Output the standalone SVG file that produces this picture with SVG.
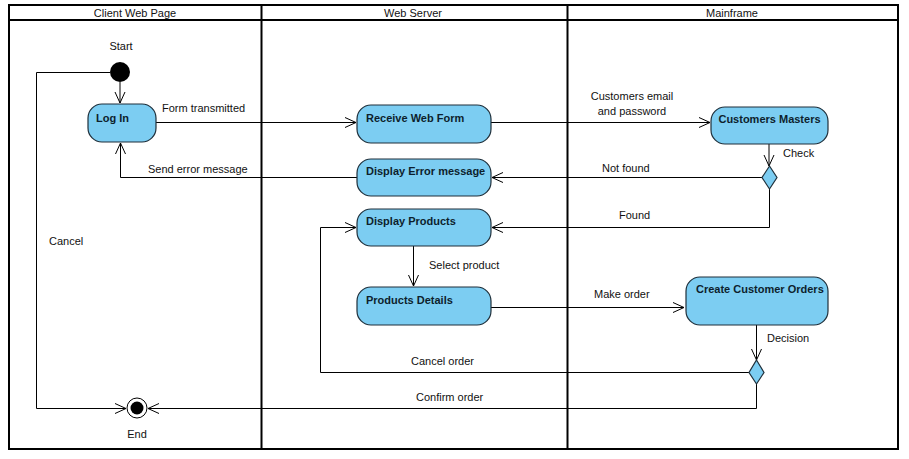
<svg xmlns="http://www.w3.org/2000/svg" width="909" height="459" viewBox="0 0 909 459">
<style>
text{font-family:"Liberation Sans",Arial,sans-serif;font-size:11px;fill:#111}
.nt{font-weight:bold;fill:#0d1f2d}
.node{fill:#7ccdf2;stroke:#1f2f3a;stroke-width:1.2}
.ln{fill:none;stroke:#000;stroke-width:1}
.fr{fill:none;stroke:#000;stroke-width:2}
</style>
<defs>
<marker id="arr" viewBox="0 0 12 12" refX="11" refY="6" markerWidth="12" markerHeight="12" markerUnits="userSpaceOnUse" orient="auto">
<path d="M0,1 L11,6 L0,11" fill="none" stroke="#000" stroke-width="1"/>
</marker>
</defs>
<rect width="909" height="459" fill="#fff"/>
<g id="swimlanes">
<rect class="fr" x="9" y="5" width="889" height="444"/>
<line class="fr" x1="9" y1="20" x2="898" y2="20"/>
<line class="fr" x1="261.5" y1="5" x2="261.5" y2="449"/>
<line class="fr" x1="567.5" y1="5" x2="567.5" y2="449"/>
<text x="135" y="17" text-anchor="middle">Client Web Page</text>
<text x="413" y="17" text-anchor="middle">Web Server</text>
<text x="732" y="17" text-anchor="middle">Mainframe</text>
</g>
<g id="connectors">
<path class="ln" d="M120,82 V103" marker-end="url(#arr)"/>
<path class="ln" d="M156,122.5 H356" marker-end="url(#arr)"/>
<path class="ln" d="M491,122.5 H710" marker-end="url(#arr)"/>
<path class="ln" d="M769,144 V166" marker-end="url(#arr)"/>
<path class="ln" d="M762,177.5 H492" marker-end="url(#arr)"/>
<path class="ln" d="M357,177.5 H120.5 V143" marker-end="url(#arr)"/>
<path class="ln" d="M769.5,189 V227.5 H492" marker-end="url(#arr)"/>
<path class="ln" d="M413.5,246 V286" marker-end="url(#arr)"/>
<path class="ln" d="M491,307.5 H684" marker-end="url(#arr)"/>
<path class="ln" d="M756.5,325 V360" marker-end="url(#arr)"/>
<path class="ln" d="M749,372.5 H320.5 V227.5 H356" marker-end="url(#arr)"/>
<path class="ln" d="M756.5,384 V408.5 H148" marker-end="url(#arr)"/>
<path class="ln" d="M110,72.5 H36.5 V408.5 H126" marker-end="url(#arr)"/>
<text x="162" y="112">Form transmitted</text>
<text x="632" y="100" text-anchor="middle">Customers email</text>
<text x="632" y="115" text-anchor="middle">and password</text>
<text x="783" y="157">Check</text>
<text x="602" y="172">Not found</text>
<text x="148" y="173">Send error message</text>
<text x="619" y="219">Found</text>
<text x="429" y="269">Select product</text>
<text x="594" y="298">Make order</text>
<text x="767" y="342">Decision</text>
<text x="411" y="365">Cancel order</text>
<text x="416" y="401">Confirm order</text>
<text x="49" y="245">Cancel</text>
</g>
<g id="start">
<circle cx="120" cy="72" r="10" fill="#000"/>
<text x="121" y="50" text-anchor="middle">Start</text>
</g>
<g id="end">
<circle cx="137" cy="408" r="10" fill="#fff" stroke="#000" stroke-width="1"/>
<circle cx="137" cy="408" r="6.5" fill="#000"/>
<text x="137" y="438" text-anchor="middle">End</text>
</g>
<g id="login">
<rect class="node" x="88" y="104" width="68" height="38" rx="14"/>
<text class="nt" x="96" y="122">Log In</text>
</g>
<g id="receive-web-form">
<rect class="node" x="357" y="105" width="134" height="38" rx="14"/>
<text class="nt" x="366" y="122">Receive Web Form</text>
</g>
<g id="display-error">
<rect class="node" x="357" y="159" width="134" height="37" rx="14"/>
<text class="nt" x="366" y="175">Display Error message</text>
</g>
<g id="display-products">
<rect class="node" x="357" y="209" width="134" height="37" rx="14"/>
<text class="nt" x="366" y="225">Display Products</text>
</g>
<g id="products-details">
<rect class="node" x="357" y="287" width="134" height="38" rx="14"/>
<text class="nt" x="366" y="304">Products Details</text>
</g>
<g id="customers-masters">
<rect class="node" x="711" y="107" width="117" height="37" rx="14"/>
<text class="nt" x="769.5" y="123" text-anchor="middle">Customers Masters</text>
</g>
<g id="create-orders">
<rect class="node" x="686" y="277" width="142" height="48" rx="14"/>
<text class="nt" x="696" y="293">Create Customer Orders</text>
</g>
<g id="check-decision">
<polygon class="node" points="769.5,166 777,177.5 769.5,189 762,177.5"/>
</g>
<g id="order-decision">
<polygon class="node" points="756.5,360 764,372.5 756.5,384 749,372.5"/>
</g>
</svg>
